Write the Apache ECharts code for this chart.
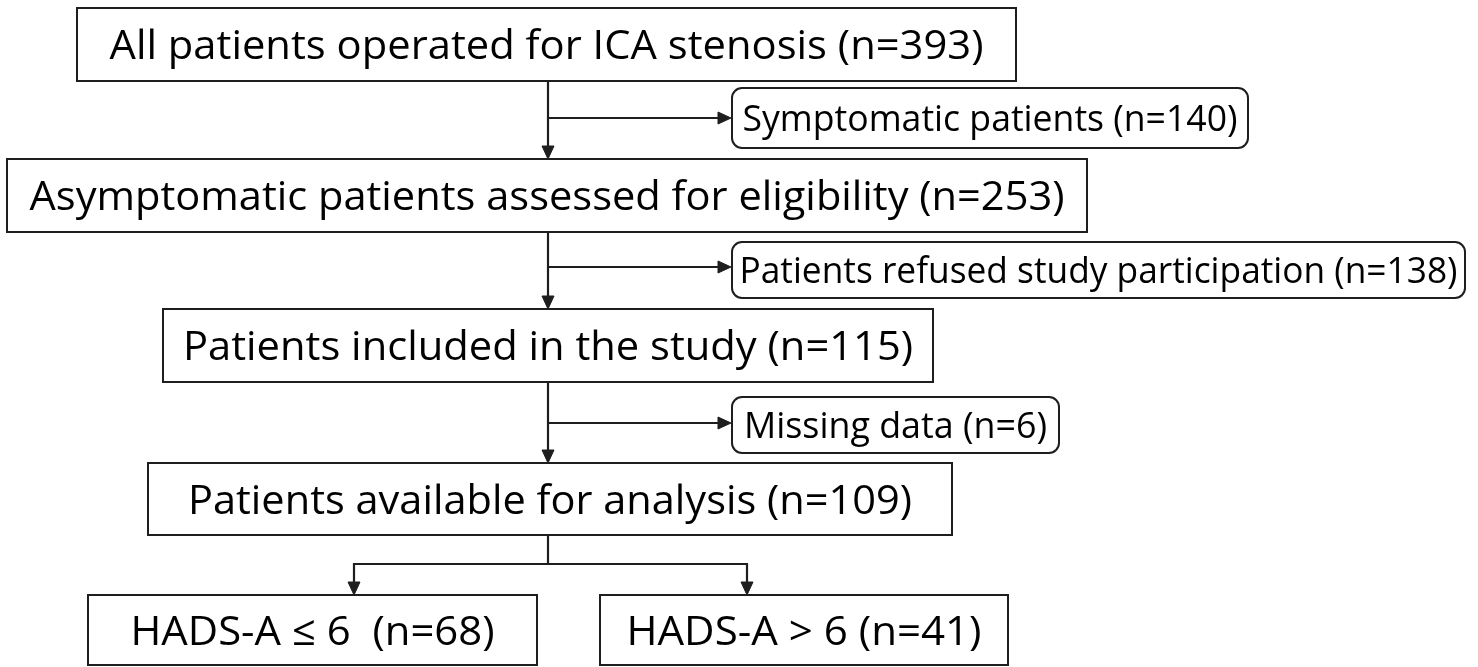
<!DOCTYPE html>
<html><head><meta charset="utf-8">
<script src="https://cdn.jsdelivr.net/npm/echarts@6/dist/echarts.min.js"></script>
<style>html,body{margin:0;padding:0;background:#fff}#c{width:1478px;height:667px}</style>
</head><body><div id="c"></div>
<script>
// ---- data ----
const mainSteps = ['All patients operated for ICA stenosis', 'Asymptomatic patients assessed for eligibility', 'Patients included in the study', 'Patients available for analysis'];
const mainCounts = [393, 253, 115, 109];
const excludedSteps = ['Symptomatic patients', 'Patients refused study participation', 'Missing data'];
const excludedCounts = [140, 138, 6];
const groupSteps = ['HADS-A \u2264 6 ', 'HADS-A > 6'];
const groupCounts = [68, 41];

// ---- layout ----
const mainBoxes = [[77, 8, 939, 73], [7, 159, 1080, 73], [163, 309, 770, 73], [148, 463, 804, 72]];
const mainTextWidths = [874, 1035, 730, 724];
const sideBoxes = [[732, 88, 516, 60], [732, 242, 733, 56], [732, 397, 327, 56]];
const sideTextWidths = [495, 718, 303];
const branchY = [118, 267, 423];
const trunkX = 548;
const groupBoxes = [[88, 595, 449, 70], [600, 595, 408, 70]];
const groupTextWidths = [364, 355];
const groupArrowX = [354, 747];
const splitY = 564;

const FONT = '"Open Sans", "Noto Sans", sans-serif';
const LINE = '#1e1e1e';
const TEXT = '#000';
const mainFont = 41, sideFont = 36;

const ctx = document.createElement('canvas').getContext('2d');
function measure(t, size) { ctx.font = size + 'px ' + FONT; return ctx.measureText(t).width; }
const label = (name, n) => name + ' (n=' + n + ')';

const g = [];
function box(b, r) {
  g.push({ type: 'rect', shape: { x: b[0], y: b[1], width: b[2], height: b[3], r: r || 0 },
    style: { fill: '#fff', stroke: LINE, lineWidth: 2 }, z: 1 });
}
function text(t, cx, cy, size, targetW) {
  const s = targetW / measure(t, size);
  g.push({ type: 'text', x: cx, y: cy, scaleX: s, scaleY: 1, z: 3,
    style: { text: t, font: size + 'px ' + FONT, fill: TEXT, align: 'center', verticalAlign: 'middle' } });
}
function line(pts) {
  g.push({ type: 'polyline', shape: { points: pts }, style: { stroke: LINE, lineWidth: 2.2, fill: null }, z: 2 });
}
function arrow(x, y, dir) {
  const L = 13, Hw = 6;
  const pts = dir === 'down' ? [[x - Hw, y - L], [x + Hw, y - L], [x, y]] : [[x - L, y - Hw], [x - L, y + Hw], [x, y]];
  g.push({ type: 'polygon', shape: { points: pts }, style: { fill: LINE, stroke: LINE, lineWidth: 1 }, z: 2 });
}

mainBoxes.forEach((b, i) => {
  box(b);
  text(label(mainSteps[i], mainCounts[i]), b[0] + b[2] / 2, b[1] + b[3] / 2 + 3, mainFont, mainTextWidths[i]);
});
sideBoxes.forEach((b, i) => {
  box(b, 10);
  text(label(excludedSteps[i], excludedCounts[i]), b[0] + b[2] / 2, b[1] + b[3] / 2 + 3, sideFont, sideTextWidths[i]);
});
groupBoxes.forEach((b, i) => {
  box(b);
  text(label(groupSteps[i], groupCounts[i]), b[0] + b[2] / 2, b[1] + b[3] / 2 + 3, mainFont, groupTextWidths[i]);
});
// trunk connectors between main boxes with side branches
for (let i = 0; i < 3; i++) {
  const top = mainBoxes[i][1] + mainBoxes[i][3];
  const bot = mainBoxes[i + 1][1];
  line([[trunkX, top], [trunkX, bot - 6]]);
  arrow(trunkX, bot, 'down');
  line([[trunkX, branchY[i]], [sideBoxes[i][0] - 6, branchY[i]]]);
  arrow(sideBoxes[i][0] - 1, branchY[i], 'right');
}
// split into groups
const b4 = mainBoxes[3];
line([[trunkX, b4[1] + b4[3]], [trunkX, splitY]]);
line([[groupArrowX[0], groupBoxes[0][1] - 6], [groupArrowX[0], splitY], [groupArrowX[1], splitY], [groupArrowX[1], groupBoxes[1][1] - 6]]);
groupArrowX.forEach((x, i) => arrow(x, groupBoxes[i][1], 'down'));

const chart = echarts.init(document.getElementById('c'), null, { renderer: 'canvas' });
chart.setOption({ backgroundColor: '#fff', animation: false, graphic: { elements: g } });
</script></body></html>
